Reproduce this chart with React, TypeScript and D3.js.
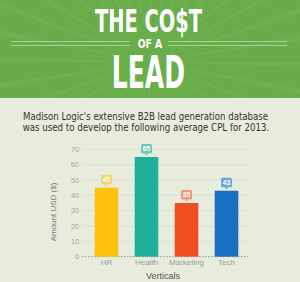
import React from "react";
import * as d3 from "d3";

const categories = ["HR", "Health", "Marketing", "Tech"];
const values = [45, 65, 35, 43];
const barColors = ["#fdc20f", "#1fb09c", "#f04f24", "#1b6fc2"];
const labelColors = ["#f5d46f", "#6cc8b9", "#f0977b", "#6ea6d9"];
const yTicks = [0, 10, 20, 30, 40, 50, 60, 70];
const titleLine1 = "THE CO$T";
const titleLine2 = "OF A";
const titleLine3 = "LEAD";
const introLines = [
  "Madison Logic's extensive B2B lead generation database",
  "was used to develop the following average CPL for 2013.",
];
const yAxisTitle = "Amount USD ($)";
const xAxisTitle = "Verticals";

export default function App() {
  const W = 300;
  const H = 282;
  const x = d3.scaleBand<string>().domain(categories).range([86.5, 246.5]).paddingInner(0.41).paddingOuter(0.205);
  const y = d3.scaleLinear().domain([0, 70]).range([256.7, 149.3]);
  const gridX0 = 82;
  const gridX1 = 248;

  // rays
  const rayCenter = [150, 62];
  const rays = d3.range(0, 36).map((i) => {
    const a0 = (i / 36) * Math.PI * 2;
    const a1 = a0 + 0.035;
    const R = 400;
    return `M${rayCenter[0]},${rayCenter[1]} L${rayCenter[0] + R * Math.cos(a0)},${rayCenter[1] + R * Math.sin(a0)} L${rayCenter[0] + R * Math.cos(a1)},${rayCenter[1] + R * Math.sin(a1)} Z`;
  });

  const condensed = "'DejaVu Sans Condensed', 'Liberation Sans Narrow', 'DejaVu Sans', sans-serif";

  return (
    <svg width={W} height={H} style={{ position: "absolute", left: 0, top: 0 }}>
      <rect x={0} y={0} width={W} height={H} fill="#e8ecdd" />
      {/* header */}
      <defs>
        <clipPath id="hdr">
          <rect x={0} y={0} width={W} height={98} />
        </clipPath>
      </defs>
      <rect x={0} y={0} width={W} height={98} fill="#68ad49" />
      <g clipPath="url(#hdr)">
        {rays.map((d, i) => (
          <path key={i} d={d} fill="#ffffff" opacity={0.05} />
        ))}
      </g>
      <text x={95} y={31.7} fill="#ffffff" fontFamily={condensed} fontWeight="bold" fontSize={31.5} textLength={107} lengthAdjust="spacingAndGlyphs">
        {titleLine1}
      </text>
      <line x1={11} x2={130} y1={41.5} y2={41.5} stroke="#a6d392" strokeWidth={1} />
      <line x1={11} x2={130} y1={45.5} y2={45.5} stroke="#a6d392" strokeWidth={1} />
      <line x1={168} x2={287} y1={41.5} y2={41.5} stroke="#a6d392" strokeWidth={1} />
      <line x1={168} x2={287} y1={45.5} y2={45.5} stroke="#a6d392" strokeWidth={1} />
      <text x={137.7} y={48.4} fill="#ffffff" fontFamily={condensed} fontWeight="bold" fontSize={11.7} textLength={24.6} lengthAdjust="spacingAndGlyphs">
        {titleLine2}
      </text>
      <text x={111.7} y={87.5} fill="#ffffff" fontFamily={condensed} fontWeight="bold" fontSize={44} textLength={73.3} lengthAdjust="spacingAndGlyphs">
        {titleLine3}
      </text>

      {/* intro */}
      {introLines.map((t, i) => (
        <text
          key={i}
          x={i === 0 ? 23 : 22.7}
          y={120 + i * 10.8}
          fill="#333333"
          fontFamily="'DejaVu Sans Condensed', 'Liberation Sans Narrow', sans-serif"
          fontSize={10.5}
          textLength={i === 0 ? 245 : 246.6}
          lengthAdjust="spacingAndGlyphs"
        >
          {t}
        </text>
      ))}

      {/* grid */}
      {yTicks.map((t) => (
        <g key={t}>
          <line
            x1={gridX0}
            x2={gridX1}
            y1={y(t)}
            y2={y(t)}
            stroke={t === 0 ? "#8d8f88" : "#c9ccc0"}
            strokeWidth={t === 0 ? 0.9 : 0.7}
            strokeDasharray={t === 0 ? "1.5,1.5" : "1,1"}
          />
          <text x={79} y={y(t) + 2.6} textAnchor="end" fill="#9fa29a" fontFamily="'Liberation Sans', Arial, sans-serif" fontSize={7.2}>
            {t}
          </text>
        </g>
      ))}

      {/* bars */}
      {categories.map((c, i) => {
        const bx = x(c) as number;
        const bw = x.bandwidth();
        const cx = bx + bw / 2;
        const top = y(values[i]);
        const boxW = 11;
        const boxH = 9.6;
        const boxBottom = top - 3.4;
        return (
          <g key={c}>
            <rect x={bx} y={top} width={bw} height={y(0) - top} fill={barColors[i]} />
            <rect x={cx - boxW / 2} y={boxBottom - boxH} width={boxW} height={boxH} rx={1.5} fill={labelColors[i]} />
            <path d={`M${cx - 2},${boxBottom} L${cx + 2},${boxBottom} L${cx},${boxBottom + 2} Z`} fill={labelColors[i]} />
            <text x={cx} y={boxBottom - 2.6} textAnchor="middle" fill="#ffffff" fontFamily="'Liberation Sans', Arial, sans-serif" fontWeight="bold" fontSize={6.8}>
              {values[i]}
            </text>
            <text x={cx} y={264.5} textAnchor="middle" fill="#9a9d95" fontFamily="'Liberation Sans', Arial, sans-serif" fontSize={8}>
              {c}
            </text>
          </g>
        );
      })}

      {/* axis titles */}
      <text x={163} y={279} textAnchor="middle" fill="#555555" fontFamily="'Liberation Sans', Arial, sans-serif" fontSize={9}>
        {xAxisTitle}
      </text>
      <text
        transform={`translate(56,212) rotate(-90)`}
        textAnchor="middle"
        fill="#777777"
        fontFamily="'Liberation Sans', Arial, sans-serif"
        fontSize={8}
      >
        {yAxisTitle}
      </text>
    </svg>
  );
}
